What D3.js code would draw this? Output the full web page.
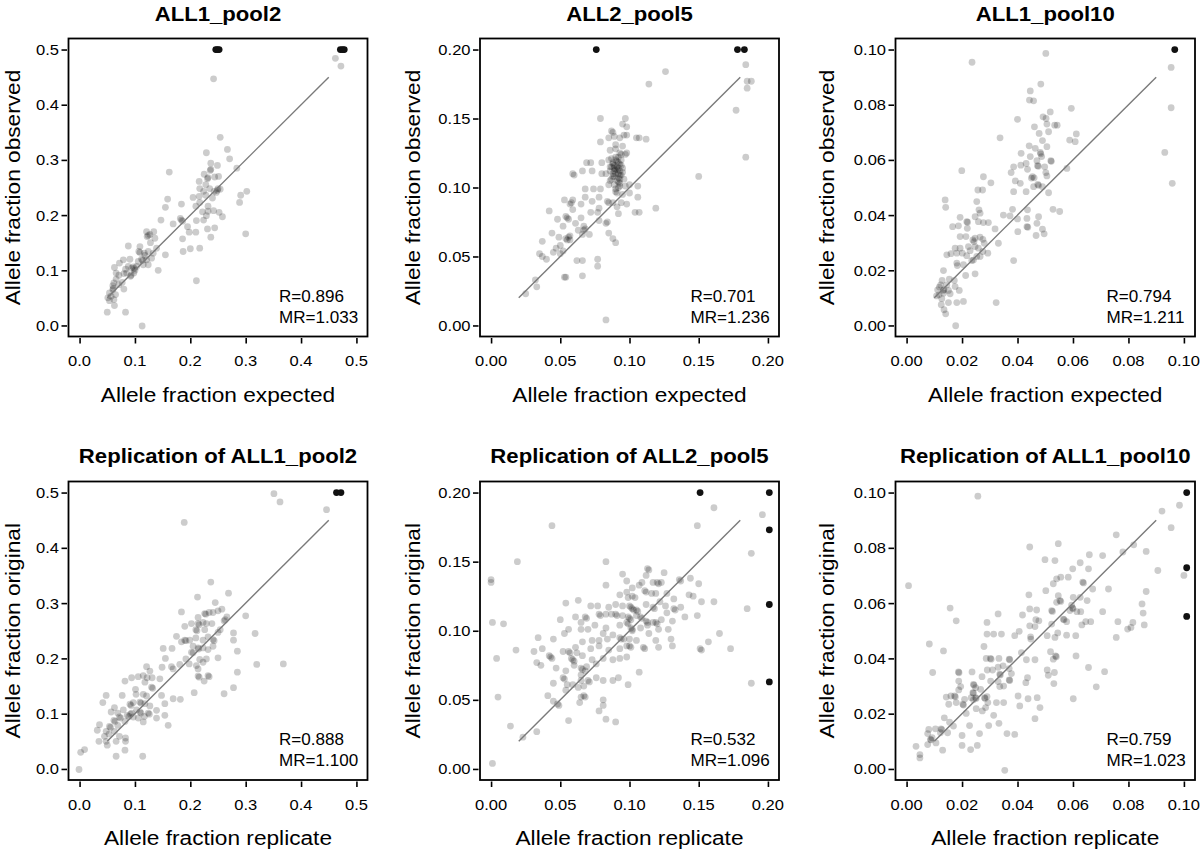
<!DOCTYPE html>
<html><head><meta charset="utf-8">
<script src="https://cdn.jsdelivr.net/npm/d3@7"></script>
<style>
html,body{margin:0;padding:0;background:#fff;}
svg{display:block;}
</style></head>
<body>
<script>
// ---------------- DATA ----------------
const panelTitles = ["ALL1_pool2","ALL2_pool5","ALL1_pool10",
  "Replication of ALL1_pool2","Replication of ALL2_pool5","Replication of ALL1_pool10"];
const xLabels = ["Allele fraction expected","Allele fraction expected","Allele fraction expected",
  "Allele fraction replicate","Allele fraction replicate","Allele fraction replicate"];
const yLabels = ["Allele fraction observed","Allele fraction observed","Allele fraction observed",
  "Allele fraction original","Allele fraction original","Allele fraction original"];
const rValues = ["0.896","0.701","0.794","0.888","0.532","0.759"];
const mrValues = ["1.033","1.236","1.211","1.100","1.096","1.023"];
const axisMax = [0.5, 0.2, 0.1, 0.5, 0.2, 0.1];
const tickValues = [
  [0,0.1,0.2,0.3,0.4,0.5],[0,0.05,0.1,0.15,0.2],[0,0.02,0.04,0.06,0.08,0.1],
  [0,0.1,0.2,0.3,0.4,0.5],[0,0.05,0.1,0.15,0.2],[0,0.02,0.04,0.06,0.08,0.1]];
const tickFormats = [".1f",".2f",".2f",".1f",".2f",".2f"];

// panel 1: ALL1_pool2 (expected, observed)
const pool2Points = [[0.462,0.484],[0.472,0.470],[0.242,0.447],[0.254,0.341],[0.267,0.319],[0.271,0.302],[0.229,0.313],[0.162,0.278],[0.237,0.294],[0.249,0.290],[0.237,0.283],[0.236,0.281],[0.284,0.285],[0.225,0.274],[0.232,0.268],[0.231,0.266],[0.244,0.269],[0.251,0.270],[0.216,0.261],[0.228,0.255],[0.217,0.248],[0.224,0.243],[0.216,0.234],[0.205,0.232],[0.235,0.248],[0.243,0.243],[0.250,0.248],[0.249,0.245],[0.247,0.241],[0.254,0.247],[0.240,0.231],[0.228,0.236],[0.302,0.243],[0.291,0.236],[0.289,0.223],[0.217,0.223],[0.210,0.216],[0.184,0.220],[0.159,0.229],[0.155,0.214],[0.232,0.216],[0.222,0.206],[0.232,0.207],[0.242,0.208],[0.252,0.205],[0.258,0.197],[0.229,0.199],[0.211,0.190],[0.224,0.191],[0.182,0.194],[0.184,0.191],[0.186,0.189],[0.147,0.191],[0.169,0.184],[0.195,0.179],[0.198,0.169],[0.210,0.169],[0.231,0.175],[0.244,0.177],[0.237,0.160],[0.186,0.157],[0.300,0.166],[0.200,0.139],[0.217,0.140],[0.187,0.134],[0.211,0.081],[0.121,0.170],[0.127,0.165],[0.134,0.170],[0.122,0.161],[0.124,0.163],[0.136,0.158],[0.139,0.140],[0.155,0.128],[0.133,0.131],[0.124,0.134],[0.109,0.143],[0.107,0.134],[0.109,0.132],[0.117,0.131],[0.130,0.122],[0.112,0.120],[0.114,0.118],[0.106,0.116],[0.121,0.119],[0.115,0.110],[0.124,0.110],[0.142,0.100],[0.103,0.107],[0.094,0.104],[0.097,0.106],[0.099,0.103],[0.088,0.107],[0.085,0.095],[0.092,0.089],[0.093,0.091],[0.098,0.095],[0.088,0.144],[0.079,0.119],[0.091,0.120],[0.072,0.113],[0.066,0.095],[0.063,0.105],[0.071,0.091],[0.080,0.094],[0.077,0.078],[0.080,0.066],[0.062,0.077],[0.060,0.065],[0.061,0.067],[0.054,0.059],[0.051,0.050],[0.057,0.053],[0.065,0.056],[0.062,0.047],[0.054,0.045],[0.063,0.036],[0.050,0.024],[0.083,0.024],[0.113,-0.001],[0.060,0.072],[0.071,0.074],[0.066,0.084],[0.118,0.127],[0.128,0.150],[0.100,0.100],[0.083,0.102]];
const pool2Clipped = [[0.246,0.5],[0.249,0.5],[0.252,0.5],[0.471,0.5],[0.475,0.5],[0.478,0.5]];

// panel 2: ALL2_pool5
const pool5Points = [[0.184,0.189],[0.185,0.177],[0.188,0.177],[0.185,0.172],[0.177,0.156],[0.184,0.122],[0.126,0.184],[0.114,0.175],[0.150,0.108],[0.119,0.085],[0.079,0.150],[0.097,0.150],[0.095,0.146],[0.098,0.144],[0.098,0.138],[0.096,0.138],[0.093,0.136],[0.087,0.141],[0.088,0.140],[0.089,0.137],[0.085,0.136],[0.079,0.133],[0.105,0.136],[0.107,0.136],[0.112,0.135],[0.090,0.131],[0.095,0.130],[0.086,0.127],[0.093,0.125],[0.098,0.125],[0.097,0.124],[0.085,0.120],[0.090,0.122],[0.072,0.118],[0.069,0.118],[0.080,0.118],[0.088,0.117],[0.089,0.116],[0.093,0.117],[0.086,0.115],[0.091,0.115],[0.092,0.114],[0.095,0.114],[0.089,0.112],[0.090,0.113],[0.092,0.110],[0.093,0.109],[0.088,0.110],[0.083,0.110],[0.080,0.110],[0.073,0.112],[0.066,0.112],[0.059,0.110],[0.060,0.109],[0.086,0.105],[0.087,0.106],[0.092,0.104],[0.085,0.102],[0.093,0.101],[0.092,0.100],[0.100,0.102],[0.106,0.101],[0.079,0.099],[0.074,0.099],[0.068,0.099],[0.090,0.097],[0.091,0.096],[0.095,0.095],[0.100,0.096],[0.106,0.093],[0.078,0.093],[0.073,0.090],[0.068,0.093],[0.059,0.091],[0.053,0.091],[0.057,0.088],[0.058,0.089],[0.065,0.088],[0.084,0.090],[0.085,0.089],[0.088,0.089],[0.094,0.089],[0.098,0.088],[0.104,0.082],[0.107,0.082],[0.092,0.081],[0.091,0.086],[0.078,0.085],[0.072,0.082],[0.077,0.082],[0.042,0.083],[0.059,0.084],[0.054,0.079],[0.055,0.078],[0.056,0.077],[0.048,0.077],[0.065,0.078],[0.061,0.074],[0.067,0.072],[0.078,0.076],[0.083,0.074],[0.084,0.075],[0.052,0.072],[0.063,0.069],[0.067,0.069],[0.068,0.070],[0.066,0.066],[0.071,0.066],[0.085,0.067],[0.088,0.063],[0.090,0.060],[0.056,0.064],[0.057,0.065],[0.049,0.064],[0.054,0.063],[0.055,0.062],[0.057,0.062],[0.044,0.067],[0.037,0.061],[0.050,0.058],[0.047,0.056],[0.045,0.053],[0.050,0.052],[0.052,0.054],[0.035,0.052],[0.037,0.050],[0.040,0.048],[0.062,0.047],[0.066,0.047],[0.077,0.048],[0.077,0.043],[0.066,0.036],[0.053,0.035],[0.054,0.035],[0.032,0.033],[0.033,0.028],[0.025,0.023],[0.083,0.004],[0.091,0.119],[0.089,0.108],[0.094,0.120],[0.087,0.121],[0.093,0.106],[0.090,0.128],[0.088,0.118],[0.090,0.120],[0.092,0.118],[0.094,0.116],[0.089,0.114],[0.091,0.113],[0.093,0.112],[0.090,0.110],[0.088,0.108],[0.092,0.107],[0.094,0.109],[0.087,0.115],[0.095,0.111],[0.091,0.105],[0.093,0.103],[0.089,0.102],[0.096,0.106],[0.086,0.112],[0.092,0.122],[0.094,0.124],[0.090,0.099],[0.097,0.101]];
const pool5Clipped = [[0.076,0.2],[0.178,0.2],[0.183,0.2]];

// panel 3: ALL1_pool10
const pool10Points = [[0.0954,0.0935],[0.0954,0.0789],[0.0931,0.0627],[0.0958,0.0515],[0.0502,0.0986],[0.0236,0.0954],[0.0484,0.0875],[0.0446,0.0850],[0.0443,0.0817],[0.0458,0.0814],[0.0594,0.0787],[0.0518,0.0774],[0.0492,0.0756],[0.0503,0.0750],[0.0400,0.0747],[0.0506,0.0730],[0.0534,0.0726],[0.0543,0.0726],[0.0461,0.0720],[0.0478,0.0696],[0.0512,0.0702],[0.0612,0.0694],[0.0588,0.0672],[0.0608,0.0666],[0.0490,0.0670],[0.0337,0.0680],[0.0442,0.0651],[0.0464,0.0642],[0.0506,0.0648],[0.0482,0.0627],[0.0484,0.0622],[0.0487,0.0612],[0.0413,0.0624],[0.0446,0.0612],[0.0520,0.0597],[0.0522,0.0595],[0.0470,0.0597],[0.0578,0.0569],[0.0472,0.0579],[0.0475,0.0577],[0.0498,0.0575],[0.0412,0.0581],[0.0431,0.0587],[0.0386,0.0575],[0.0436,0.0566],[0.0502,0.0554],[0.0377,0.0554],[0.0454,0.0539],[0.0450,0.0534],[0.0460,0.0535],[0.0506,0.0542],[0.0277,0.0539],[0.0199,0.0561],[0.0304,0.0517],[0.0392,0.0524],[0.0410,0.0515],[0.0473,0.0511],[0.0476,0.0508],[0.0490,0.0503],[0.0458,0.0503],[0.0512,0.0481],[0.0386,0.0485],[0.0431,0.0485],[0.0257,0.0491],[0.0274,0.0491],[0.0253,0.0449],[0.0139,0.0455],[0.0141,0.0428],[0.0528,0.0421],[0.0552,0.0413],[0.0382,0.0421],[0.0261,0.0419],[0.0265,0.0407],[0.0349,0.0400],[0.0373,0.0397],[0.0436,0.0419],[0.0434,0.0388],[0.0400,0.0386],[0.0476,0.0394],[0.0247,0.0394],[0.0193,0.0392],[0.0217,0.0376],[0.0220,0.0374],[0.0259,0.0376],[0.0295,0.0373],[0.0277,0.0373],[0.0166,0.0358],[0.0187,0.0361],[0.0434,0.0358],[0.0437,0.0356],[0.0470,0.0370],[0.0490,0.0349],[0.0496,0.0332],[0.0467,0.0326],[0.0401,0.0340],[0.0319,0.0350],[0.0219,0.0352],[0.0193,0.0322],[0.0214,0.0322],[0.0239,0.0310],[0.0247,0.0316],[0.0243,0.0304],[0.0265,0.0320],[0.0275,0.0312],[0.0280,0.0298],[0.0331,0.0298],[0.0175,0.0280],[0.0193,0.0280],[0.0223,0.0286],[0.0247,0.0286],[0.0259,0.0280],[0.0181,0.0262],[0.0201,0.0262],[0.0145,0.0256],[0.0160,0.0260],[0.0229,0.0271],[0.0275,0.0268],[0.0293,0.0262],[0.0217,0.0253],[0.0253,0.0250],[0.0265,0.0250],[0.0386,0.0235],[0.0235,0.0235],[0.0241,0.0237],[0.0183,0.0217],[0.0181,0.0226],[0.0205,0.0220],[0.0133,0.0199],[0.0213,0.0181],[0.0247,0.0187],[0.0172,0.0163],[0.0154,0.0168],[0.0128,0.0163],[0.0123,0.0147],[0.0118,0.0139],[0.0145,0.0147],[0.0175,0.0141],[0.0112,0.0129],[0.0133,0.0127],[0.0135,0.0130],[0.0151,0.0127],[0.0190,0.0127],[0.0117,0.0111],[0.0133,0.0117],[0.0108,0.0107],[0.0157,0.0115],[0.0127,0.0097],[0.0151,0.0083],[0.0181,0.0083],[0.0205,0.0087],[0.0323,0.0083],[0.0125,0.0075],[0.0135,0.0057],[0.0141,0.0042],[0.0177,-0.0001]];
const pool10Clipped = [[0.0967,0.1]];

// panel 4: replication of ALL1_pool2 (replicate, original)
const rep2Points = [[0.351,0.498],[0.362,0.483],[0.446,0.469],[0.189,0.446],[0.237,0.338],[0.269,0.318],[0.213,0.311],[0.245,0.301],[0.300,0.277],[0.184,0.284],[0.226,0.281],[0.228,0.280],[0.234,0.283],[0.241,0.283],[0.250,0.286],[0.257,0.289],[0.266,0.275],[0.261,0.268],[0.263,0.270],[0.214,0.274],[0.202,0.263],[0.214,0.263],[0.216,0.261],[0.223,0.265],[0.229,0.263],[0.239,0.263],[0.190,0.258],[0.210,0.252],[0.212,0.250],[0.226,0.252],[0.254,0.252],[0.278,0.246],[0.317,0.245],[0.175,0.240],[0.190,0.233],[0.192,0.232],[0.199,0.233],[0.210,0.237],[0.223,0.233],[0.232,0.239],[0.241,0.234],[0.243,0.232],[0.250,0.247],[0.278,0.233],[0.184,0.230],[0.205,0.222],[0.214,0.219],[0.215,0.217],[0.223,0.219],[0.232,0.216],[0.241,0.222],[0.202,0.211],[0.205,0.210],[0.285,0.213],[0.151,0.218],[0.167,0.218],[0.155,0.200],[0.192,0.199],[0.217,0.198],[0.229,0.199],[0.250,0.201],[0.223,0.193],[0.211,0.187],[0.181,0.189],[0.198,0.190],[0.320,0.189],[0.368,0.190],[0.149,0.184],[0.166,0.185],[0.169,0.181],[0.121,0.185],[0.214,0.181],[0.127,0.177],[0.115,0.169],[0.106,0.167],[0.122,0.165],[0.131,0.165],[0.094,0.165],[0.082,0.159],[0.145,0.163],[0.214,0.168],[0.216,0.166],[0.232,0.169],[0.234,0.167],[0.285,0.175],[0.225,0.159],[0.118,0.157],[0.130,0.148],[0.132,0.146],[0.101,0.144],[0.278,0.147],[0.261,0.136],[0.207,0.138],[0.102,0.135],[0.115,0.135],[0.121,0.132],[0.148,0.133],[0.169,0.127],[0.182,0.126],[0.048,0.133],[0.077,0.133],[0.042,0.120],[0.097,0.120],[0.109,0.121],[0.111,0.119],[0.118,0.118],[0.091,0.117],[0.093,0.115],[0.127,0.114],[0.154,0.118],[0.063,0.111],[0.079,0.107],[0.103,0.107],[0.109,0.103],[0.111,0.101],[0.057,0.103],[0.069,0.101],[0.094,0.101],[0.092,0.099],[0.124,0.101],[0.126,0.099],[0.139,0.106],[0.089,0.095],[0.086,0.097],[0.072,0.094],[0.074,0.092],[0.097,0.094],[0.106,0.092],[0.117,0.095],[0.154,0.097],[0.139,0.092],[0.062,0.088],[0.064,0.086],[0.082,0.086],[0.115,0.085],[0.160,0.079],[0.036,0.080],[0.054,0.077],[0.056,0.075],[0.069,0.079],[0.048,0.068],[0.032,0.070],[0.063,0.068],[0.045,0.059],[0.053,0.063],[0.072,0.059],[0.035,0.050],[0.048,0.050],[0.066,0.050],[0.083,0.056],[0.083,0.050],[0.050,0.043],[0.082,0.034],[0.066,0.023],[0.114,0.023],[0.002,0.030],[0.009,0.035],[-0.001,-0.001]];
const rep2Clipped = [[0.464,0.5],[0.472,0.5]];

// panel 5: replication of ALL2_pool5
const rep5Points = [[0.161,0.189],[0.196,0.184],[0.149,0.176],[0.044,0.176],[0.188,0.156],[0.019,0.150],[0.000,0.137],[0.000,0.135],[0.001,0.106],[0.009,0.105],[0.018,0.086],[0.004,0.080],[0.005,0.052],[0.014,0.031],[0.023,0.023],[0.033,0.027],[0.001,0.004],[0.185,0.116],[0.161,0.121],[0.152,0.121],[0.149,0.111],[0.140,0.110],[0.165,0.098],[0.157,0.092],[0.151,0.087],[0.152,0.086],[0.173,0.087],[0.188,0.062],[0.150,0.134],[0.144,0.138],[0.136,0.137],[0.137,0.136],[0.146,0.125],[0.143,0.126],[0.137,0.117],[0.132,0.123],[0.125,0.142],[0.120,0.135],[0.121,0.134],[0.123,0.135],[0.117,0.135],[0.113,0.145],[0.114,0.144],[0.112,0.140],[0.109,0.135],[0.107,0.133],[0.111,0.129],[0.112,0.128],[0.095,0.141],[0.083,0.150],[0.083,0.133],[0.098,0.136],[0.102,0.131],[0.098,0.128],[0.093,0.126],[0.099,0.124],[0.102,0.125],[0.104,0.124],[0.116,0.127],[0.119,0.127],[0.127,0.127],[0.054,0.120],[0.063,0.122],[0.072,0.118],[0.077,0.118],[0.085,0.117],[0.090,0.119],[0.095,0.118],[0.100,0.118],[0.101,0.117],[0.102,0.116],[0.103,0.115],[0.105,0.115],[0.106,0.114],[0.112,0.119],[0.117,0.117],[0.118,0.116],[0.122,0.121],[0.126,0.118],[0.127,0.113],[0.132,0.116],[0.133,0.115],[0.078,0.112],[0.079,0.111],[0.083,0.112],[0.087,0.112],[0.090,0.112],[0.091,0.111],[0.095,0.111],[0.099,0.110],[0.100,0.109],[0.101,0.108],[0.105,0.111],[0.108,0.110],[0.109,0.109],[0.112,0.107],[0.113,0.106],[0.117,0.106],[0.119,0.106],[0.120,0.105],[0.123,0.108],[0.131,0.107],[0.050,0.108],[0.068,0.110],[0.069,0.109],[0.061,0.110],[0.065,0.106],[0.056,0.101],[0.065,0.101],[0.070,0.101],[0.075,0.104],[0.083,0.102],[0.093,0.104],[0.098,0.106],[0.099,0.105],[0.101,0.102],[0.102,0.101],[0.102,0.100],[0.108,0.102],[0.113,0.104],[0.121,0.101],[0.128,0.101],[0.034,0.095],[0.045,0.094],[0.053,0.098],[0.081,0.098],[0.084,0.094],[0.088,0.097],[0.093,0.095],[0.094,0.094],[0.096,0.094],[0.100,0.094],[0.105,0.093],[0.114,0.098],[0.119,0.093],[0.130,0.094],[0.073,0.093],[0.078,0.093],[0.066,0.092],[0.061,0.088],[0.056,0.085],[0.057,0.084],[0.072,0.087],[0.078,0.089],[0.085,0.086],[0.093,0.087],[0.098,0.089],[0.100,0.089],[0.101,0.088],[0.110,0.088],[0.111,0.087],[0.121,0.088],[0.131,0.089],[0.031,0.085],[0.037,0.087],[0.042,0.082],[0.043,0.081],[0.044,0.080],[0.052,0.085],[0.062,0.084],[0.060,0.078],[0.059,0.079],[0.058,0.080],[0.066,0.082],[0.073,0.079],[0.081,0.080],[0.088,0.079],[0.093,0.080],[0.098,0.081],[0.033,0.077],[0.036,0.075],[0.047,0.073],[0.060,0.075],[0.065,0.073],[0.066,0.072],[0.069,0.074],[0.076,0.076],[0.054,0.071],[0.068,0.071],[0.052,0.066],[0.053,0.065],[0.065,0.068],[0.070,0.064],[0.071,0.063],[0.065,0.064],[0.076,0.066],[0.081,0.064],[0.088,0.064],[0.092,0.066],[0.107,0.070],[0.099,0.061],[0.055,0.061],[0.059,0.061],[0.045,0.062],[0.063,0.059],[0.067,0.060],[0.054,0.057],[0.041,0.053],[0.065,0.052],[0.067,0.053],[0.068,0.052],[0.045,0.049],[0.048,0.047],[0.049,0.046],[0.081,0.050],[0.064,0.048],[0.081,0.046],[0.078,0.042],[0.056,0.035],[0.083,0.036],[0.090,0.034]];
const rep5Clipped = [[0.151,0.2],[0.201,0.2],[0.201,0.173],[0.201,0.119],[0.201,0.063]];

// panel 6: replication of ALL1_pool10
const rep10Points = [[0.0984,0.0954],[0.0921,0.0933],[0.0954,0.0873],[0.1000,0.0700],[0.0906,0.0718],[0.0864,0.0787],[0.0780,0.0785],[0.0819,0.0811],[0.0756,0.0847],[0.0707,0.0772],[0.0728,0.0651],[0.0707,0.0569],[0.0762,0.0533],[0.0756,0.0476],[0.0797,0.0506],[0.0816,0.0530],[0.0857,0.0521],[0.0864,0.0642],[0.0849,0.0597],[0.0853,0.0564],[0.0809,0.0512],[0.0257,0.0987],[0.0007,0.0663],[0.0157,0.0582],[0.0179,0.0536],[0.0082,0.0452],[0.0133,0.0427],[0.0094,0.0349],[0.0034,0.0082],[0.0048,0.0052],[0.0048,0.0040],[0.0354,-0.0005],[0.0444,0.0803],[0.0547,0.0815],[0.0535,0.0754],[0.0499,0.0757],[0.0659,0.0775],[0.0599,0.0724],[0.0626,0.0746],[0.0656,0.0724],[0.0635,0.0676],[0.0638,0.0673],[0.0671,0.0651],[0.0583,0.0694],[0.0556,0.0694],[0.0541,0.0688],[0.0529,0.0670],[0.0502,0.0645],[0.0547,0.0627],[0.0553,0.0609],[0.0556,0.0606],[0.0541,0.0603],[0.0626,0.0621],[0.0601,0.0621],[0.0651,0.0609],[0.0595,0.0593],[0.0589,0.0573],[0.0614,0.0569],[0.0628,0.0569],[0.0598,0.0583],[0.0600,0.0580],[0.0441,0.0630],[0.0469,0.0575],[0.0444,0.0579],[0.0523,0.0573],[0.0526,0.0570],[0.0466,0.0540],[0.0444,0.0518],[0.0477,0.0536],[0.0523,0.0524],[0.0565,0.0542],[0.0568,0.0540],[0.0577,0.0533],[0.0646,0.0533],[0.0664,0.0533],[0.0632,0.0521],[0.0418,0.0557],[0.0406,0.0498],[0.0390,0.0482],[0.0507,0.0482],[0.0545,0.0492],[0.0577,0.0484],[0.0610,0.0482],[0.0447,0.0478],[0.0448,0.0470],[0.0463,0.0515],[0.0535,0.0476],[0.0290,0.0530],[0.0314,0.0488],[0.0342,0.0488],[0.0290,0.0488],[0.0330,0.0561],[0.0279,0.0443],[0.0414,0.0421],[0.0519,0.0424],[0.0537,0.0409],[0.0540,0.0406],[0.0611,0.0409],[0.0529,0.0397],[0.0463,0.0395],[0.0432,0.0395],[0.0370,0.0397],[0.0372,0.0395],[0.0333,0.0400],[0.0302,0.0400],[0.0305,0.0397],[0.0287,0.0400],[0.0348,0.0373],[0.0370,0.0363],[0.0330,0.0368],[0.0291,0.0358],[0.0310,0.0358],[0.0507,0.0358],[0.0511,0.0339],[0.0533,0.0349],[0.0531,0.0309],[0.0656,0.0367],[0.0714,0.0352],[0.0684,0.0297],[0.0336,0.0343],[0.0338,0.0340],[0.0378,0.0345],[0.0370,0.0322],[0.0372,0.0320],[0.0187,0.0351],[0.0189,0.0348],[0.0236,0.0351],[0.0272,0.0334],[0.0303,0.0318],[0.0330,0.0316],[0.0188,0.0318],[0.0195,0.0298],[0.0241,0.0306],[0.0243,0.0303],[0.0249,0.0294],[0.0267,0.0288],[0.0336,0.0298],[0.0350,0.0300],[0.0436,0.0330],[0.0430,0.0312],[0.0402,0.0264],[0.0438,0.0254],[0.0471,0.0258],[0.0408,0.0228],[0.0481,0.0222],[0.0463,0.0182],[0.0601,0.0254],[0.0173,0.0264],[0.0176,0.0261],[0.0160,0.0264],[0.0143,0.0260],[0.0188,0.0286],[0.0209,0.0252],[0.0233,0.0258],[0.0239,0.0276],[0.0241,0.0274],[0.0249,0.0258],[0.0251,0.0255],[0.0281,0.0258],[0.0283,0.0255],[0.0290,0.0262],[0.0293,0.0240],[0.0285,0.0222],[0.0324,0.0240],[0.0350,0.0240],[0.0273,0.0210],[0.0314,0.0194],[0.0251,0.0218],[0.0203,0.0234],[0.0205,0.0231],[0.0152,0.0234],[0.0179,0.0240],[0.0241,0.0250],[0.0215,0.0201],[0.0136,0.0185],[0.0155,0.0169],[0.0169,0.0155],[0.0148,0.0131],[0.0124,0.0145],[0.0127,0.0142],[0.0104,0.0145],[0.0122,0.0131],[0.0080,0.0143],[0.0076,0.0128],[0.0092,0.0113],[0.0086,0.0107],[0.0088,0.0105],[0.0076,0.0088],[0.0106,0.0094],[0.0130,0.0068],[0.0200,0.0121],[0.0200,0.0085],[0.0227,0.0157],[0.0231,0.0070],[0.0255,0.0085],[0.0263,0.0128],[0.0296,0.0157],[0.0333,0.0165],[0.0362,0.0128],[0.0390,0.0125]];
const rep10Clipped = [[0.101,0.1],[0.101,0.0728],[0.101,0.0552]];

const panelPoints = [pool2Points, pool5Points, pool10Points, rep2Points, rep5Points, rep10Points];
const panelClipped = [pool2Clipped, pool5Clipped, pool10Clipped, rep2Clipped, rep5Clipped, rep10Clipped];

// ---------------- LAYOUT ----------------
const W = 1200, H = 851;
const FONT = "'Liberation Sans', Arial, Helvetica, sans-serif";
const SX = 1.08; // horizontal stretch of the reference typography
const colBox = [[68.5, 367.5], [480, 779], [895.5, 1195]];
const colYTitle = [12.7, 412.7, 826.7];
const rowBox = [[38.5, 336.5], [481.5, 780]];
const rowTitleY = [20.7, 463.3];
const rowXTitleY = [402, 845];

const svg = d3.select("body").append("svg").attr("width", W).attr("height", H);

function txt(g, x, y, s, o) {
  o = o || {};
  return g.append("text")
    .attr("transform", `translate(${x},${y})` + (o.rot ? ` rotate(${o.rot})` : "") + ` scale(${SX},1)`)
    .attr("text-anchor", o.anchor || "middle")
    .attr("dy", o.dy || null)
    .attr("font-family", FONT)
    .attr("font-size", o.size || 15)
    .attr("font-weight", o.weight || "normal")
    .attr("fill", "#000")
    .text(s);
}

for (let i = 0; i < 6; i++) {
  const col = i % 3, row = Math.floor(i / 3);
  const [L, R] = colBox[col];
  const [T, B] = rowBox[row];
  const m = axisMax[i];
  const x = d3.scaleLinear().domain([-0.04 * m, 1.04 * m]).range([L, R]);
  const y = d3.scaleLinear().domain([-0.04 * m, 1.04 * m]).range([B, T]);
  const g = svg.append("g");
  const fmt = d3.format(tickFormats[i]);

  // x / y axis ticks (R style, detached from the box)
  const xa = g.append("g").attr("transform", `translate(0,${B + 1.5})`)
    .call(d3.axisBottom(x).tickValues(tickValues[i]).tickSize(5.5).tickFormat(""));
  xa.select(".domain").remove();
  xa.selectAll("line").attr("stroke", "#000").attr("stroke-width", 1.6);
  const ya = g.append("g").attr("transform", `translate(${L - 1.5},0)`)
    .call(d3.axisLeft(y).tickValues(tickValues[i]).tickSize(5.5).tickFormat(""));
  ya.select(".domain").remove();
  ya.selectAll("line").attr("stroke", "#000").attr("stroke-width", 1.6);

  tickValues[i].forEach(v => {
    txt(g, x(v), B + 29.5, fmt(v), {size: 15.3});
    txt(g, L - 9.5, y(v), fmt(v), {size: 15.3, anchor: "end", dy: "0.36em"});
  });

  // points
  g.append("g").selectAll("circle").data(panelPoints[i]).join("circle")
    .attr("cx", d => x(d[0])).attr("cy", d => y(d[1])).attr("r", 3.4)
    .attr("fill", "#000").attr("fill-opacity", 0.2);

  // reference line y = x from 10% to 90% of axis range
  g.append("line")
    .attr("x1", x(0.1 * m)).attr("y1", y(0.1 * m))
    .attr("x2", x(0.9 * m)).attr("y2", y(0.9 * m))
    .attr("stroke", "#7a7a7a").attr("stroke-width", 1.4);

  g.append("g").selectAll("circle").data(panelClipped[i]).join("circle")
    .attr("cx", d => x(d[0])).attr("cy", d => y(d[1])).attr("r", 3.4)
    .attr("fill", "#111");

  // box
  g.append("rect").attr("x", L).attr("y", T).attr("width", R - L).attr("height", B - T)
    .attr("fill", "none").attr("stroke", "#000").attr("stroke-width", 1.8);

  // annotations
  txt(g, R - 88.5, B - 35, "R=" + rValues[i], {size: 15.8, anchor: "start"});
  txt(g, R - 88.5, B - 14, "MR=" + mrValues[i], {size: 15.8, anchor: "start"});

  // titles
  txt(g, (L + R) / 2, rowTitleY[row], panelTitles[i], {size: 20.5, weight: "bold"});
  txt(g, (L + R) / 2, rowXTitleY[row], xLabels[i], {size: 21});
  txt(g, colYTitle[col], (T + B) / 2, yLabels[i], {size: 21, rot: -90, dy: "0.36em"});
}
</script>
</body></html>
